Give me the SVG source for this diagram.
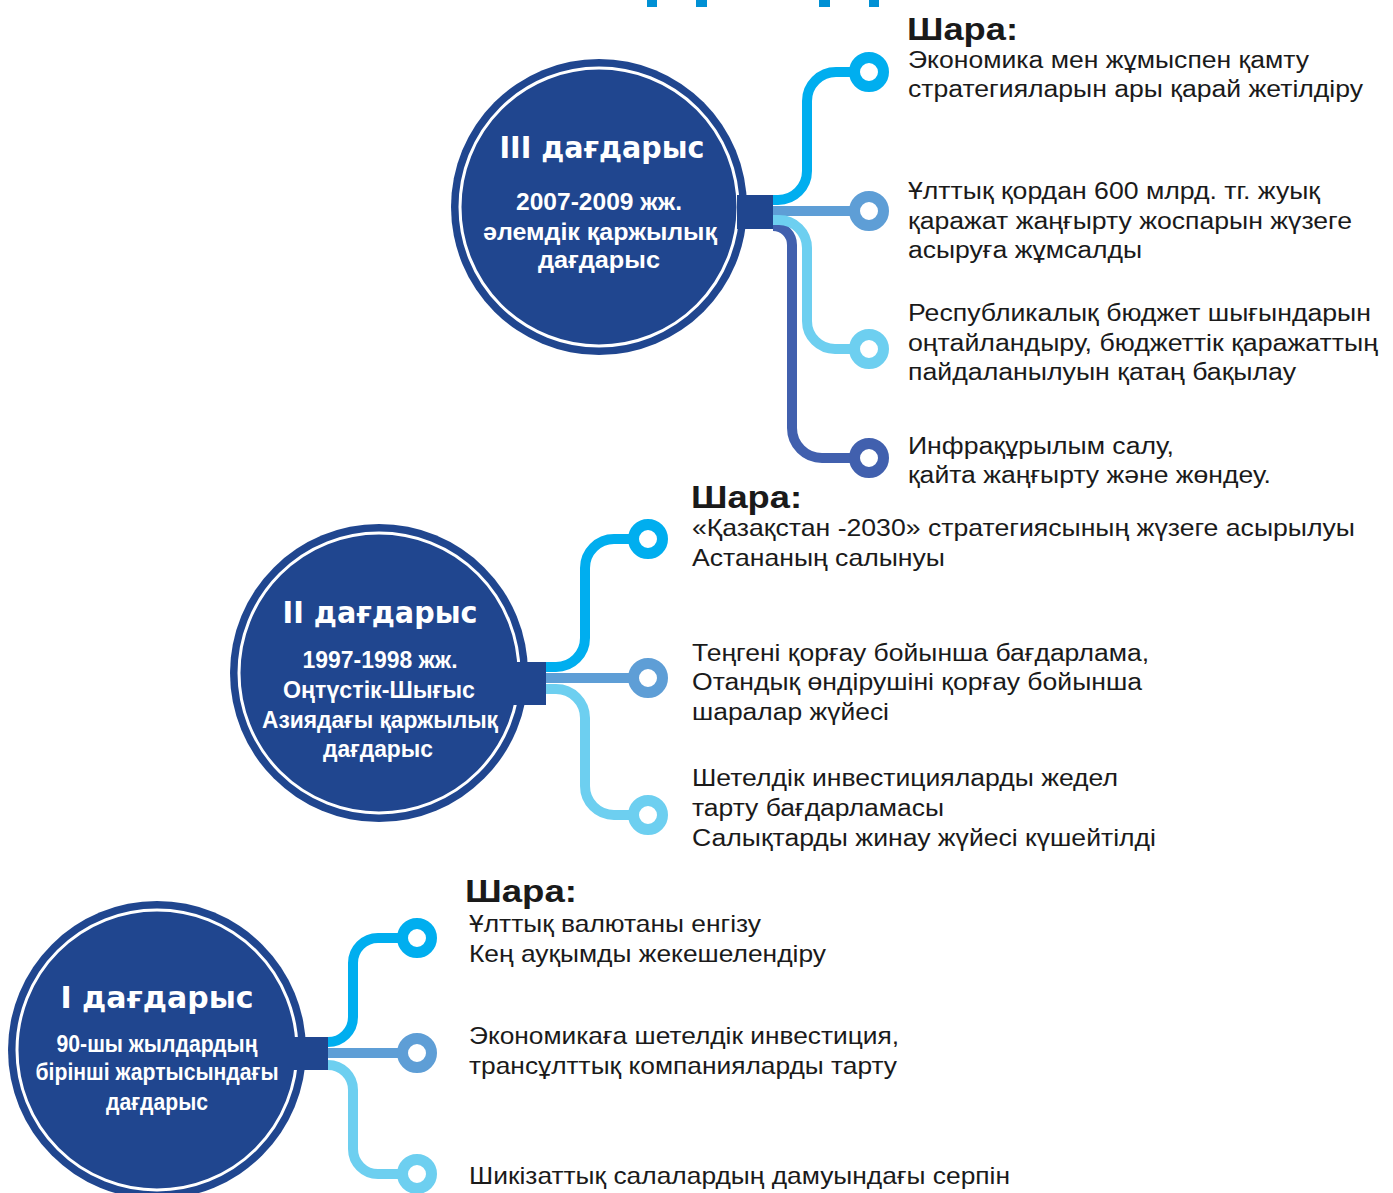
<svg xmlns="http://www.w3.org/2000/svg" width="1393" height="1193" viewBox="0 0 1393 1193">
<style>
.bg{fill:#ffffff}
.disc{fill:#20468f}
.ring{fill:none;stroke:#ffffff;stroke-width:3}
.tab{fill:#20468f}
.br{fill:none;stroke-width:10}
.c1{stroke:#00aeef}
.c2{stroke:#5e9ed6}
.c3{stroke:#6dcff0}
.c4{stroke:#4160ae}
.nd{fill:#ffffff;stroke-width:11}
.ttl{font-family:"DejaVu Sans","Liberation Sans",sans-serif;font-weight:bold;font-size:31px;fill:#ffffff;text-anchor:middle}
.sub{font-family:"Liberation Sans Narrow","Liberation Sans",Arial,sans-serif;font-weight:bold;font-size:24px;fill:#ffffff;text-anchor:middle}
.hd{font-family:"Liberation Sans",Arial,sans-serif;font-weight:bold;font-size:31px;fill:#1a1a1a}
.tx{font-family:"Liberation Sans",Arial,sans-serif;font-size:23px;fill:#1a1a1a}
.tn{font-family:"Liberation Sans",Arial,sans-serif;font-size:24px;fill:#1a1a1a}
.top{fill:#0090d4}
</style>
<rect class="bg" x="0" y="0" width="1393" height="1193"/>
<g id="title-fragment">
<rect class="top" x="647" y="0" width="10" height="7"/>
<rect class="top" x="696" y="0" width="11" height="7"/>
<rect class="top" x="819" y="0" width="11" height="7"/>
<rect class="top" x="869" y="0" width="10" height="7"/>
</g>
<g id="connectors">
<path class="br c1" d="M773,200 H778 A29,29 0 0 0 807,171 V101 A29,29 0 0 1 836,72 H860"/>
<path class="br c2" d="M773,211 H860"/>
<path class="br c4" d="M773,226 A19,19 0 0 1 792,245 V428 A30,30 0 0 0 822,458 H860"/>
<path class="br c3" d="M773,220 H779 A28,28 0 0 1 807,248 V321 A28,28 0 0 0 835,349 H860"/>
<path class="br c1" d="M546,667 H556 A29,29 0 0 0 585,638 V568 A29,29 0 0 1 614,539 H640"/>
<path class="br c2" d="M546,678 H640"/>
<path class="br c3" d="M546,689 H556 A29,29 0 0 1 585,718 V786 A29,29 0 0 0 614,815 H640"/>
<path class="br c1" d="M328,1042 A25,25 0 0 0 353,1017 V963 A25,25 0 0 1 378,938 H408"/>
<path class="br c2" d="M328,1053 H408"/>
<path class="br c3" d="M328,1065 A25,25 0 0 1 353,1090 V1149 A25,25 0 0 0 378,1174 H408"/>
</g>
<g id="crisis-3">
<circle class="disc" cx="599" cy="207" r="148"/>
<circle class="ring" cx="599" cy="207" r="139"/>
<rect class="tab" x="737" y="195" width="36" height="34"/>
<text class="ttl" x="602" y="158" textLength="205" lengthAdjust="spacingAndGlyphs">III дағдарыс</text>
<text class="sub" x="599" y="210" textLength="166" lengthAdjust="spacingAndGlyphs">2007-2009 жж.</text>
<text class="sub" x="600" y="240" textLength="234" lengthAdjust="spacingAndGlyphs">әлемдік қаржылық</text>
<text class="sub" x="599" y="268" textLength="122" lengthAdjust="spacingAndGlyphs">дағдарыс</text>
</g>
<g id="crisis-2">
<circle class="disc" cx="379" cy="673" r="149"/>
<circle class="ring" cx="379" cy="673" r="140"/>
<rect class="tab" x="513" y="662" width="33" height="43"/>
<text class="ttl" x="380" y="623" textLength="195" lengthAdjust="spacingAndGlyphs">II дағдарыс</text>
<text class="sub" x="380" y="668" textLength="155" lengthAdjust="spacingAndGlyphs">1997-1998 жж.</text>
<text class="sub" x="379" y="698" textLength="192" lengthAdjust="spacingAndGlyphs">Оңтүстік-Шығыс</text>
<text class="sub" x="380" y="728" textLength="236" lengthAdjust="spacingAndGlyphs">Азиядағы қаржылық</text>
<text class="sub" x="378" y="757" textLength="110" lengthAdjust="spacingAndGlyphs">дағдарыс</text>
</g>
<g id="crisis-1">
<circle class="disc" cx="157" cy="1050" r="149"/>
<circle class="ring" cx="157" cy="1050" r="140"/>
<rect class="tab" x="293" y="1037" width="35" height="33"/>
<text class="ttl" x="157" y="1008" textLength="193" lengthAdjust="spacingAndGlyphs">I дағдарыс</text>
<text class="sub" x="157" y="1052" textLength="201" lengthAdjust="spacingAndGlyphs">90-шы жылдардың</text>
<text class="sub" x="157" y="1080" textLength="243" lengthAdjust="spacingAndGlyphs">бірінші жартысындағы</text>
<text class="sub" x="157" y="1110" textLength="102" lengthAdjust="spacingAndGlyphs">дағдарыс</text>
</g>
<g id="nodes-3">
<circle class="nd c1" cx="869" cy="72" r="14.5"/>
<circle class="nd c2" cx="869" cy="211" r="14.5"/>
<circle class="nd c3" cx="869" cy="349" r="14.5"/>
<circle class="nd c4" cx="869" cy="458" r="14.5"/>
</g>
<g id="nodes-2">
<circle class="nd c1" cx="648" cy="539" r="14.5"/>
<circle class="nd c2" cx="648" cy="678" r="14.5"/>
<circle class="nd c3" cx="648" cy="815" r="14.5"/>
</g>
<g id="nodes-1">
<circle class="nd c1" cx="417" cy="938" r="14.5"/>
<circle class="nd c2" cx="417" cy="1053" r="14.5"/>
<circle class="nd c3" cx="417" cy="1174" r="14.5"/>
</g>
<g id="measures-3">
<text class="hd" x="907" y="40" textLength="111" lengthAdjust="spacingAndGlyphs">Шара:</text>
<text class="tx" x="908" y="68" textLength="401" lengthAdjust="spacingAndGlyphs">Экономика мен жұмыспен қамту</text>
<text class="tx" x="908" y="97" textLength="455" lengthAdjust="spacingAndGlyphs">стратегияларын ары қарай жетілдіру</text>
<text class="tx" x="908" y="199" textLength="412" lengthAdjust="spacingAndGlyphs">Ұлттық қордан 600 млрд. тг. жуық</text>
<text class="tx" x="908" y="229" textLength="444" lengthAdjust="spacingAndGlyphs">қаражат жаңғырту жоспарын жүзеге</text>
<text class="tx" x="908" y="258" textLength="234" lengthAdjust="spacingAndGlyphs">асыруға жұмсалды</text>
<text class="tx" x="908" y="321" textLength="463" lengthAdjust="spacingAndGlyphs">Республикалық бюджет шығындарын</text>
<text class="tx" x="908" y="351" textLength="470" lengthAdjust="spacingAndGlyphs">оңтайландыру, бюджеттік қаражаттың</text>
<text class="tx" x="908" y="380" textLength="388" lengthAdjust="spacingAndGlyphs">пайдаланылуын қатаң бақылау</text>
<text class="tx" x="908" y="454" textLength="266" lengthAdjust="spacingAndGlyphs">Инфрақұрылым салу,</text>
<text class="tx" x="908" y="483" textLength="363" lengthAdjust="spacingAndGlyphs">қайта жаңғырту және жөндеу.</text>
</g>
<g id="measures-2">
<text class="hd" x="691" y="508" textLength="111" lengthAdjust="spacingAndGlyphs">Шара:</text>
<text class="tn" x="692" y="536" textLength="663" lengthAdjust="spacingAndGlyphs">«Қазақстан -2030» стратегиясының жүзеге асырылуы</text>
<text class="tn" x="692" y="566" textLength="253" lengthAdjust="spacingAndGlyphs">Астананың салынуы</text>
<text class="tx" x="692" y="661" textLength="457" lengthAdjust="spacingAndGlyphs">Теңгені қорғау бойынша бағдарлама,</text>
<text class="tx" x="692" y="690" textLength="450" lengthAdjust="spacingAndGlyphs">Отандық өндірушіні қорғау бойынша</text>
<text class="tx" x="692" y="720" textLength="197" lengthAdjust="spacingAndGlyphs">шаралар жүйесі</text>
<text class="tx" x="692" y="786" textLength="426" lengthAdjust="spacingAndGlyphs">Шетелдік инвестицияларды жедел</text>
<text class="tx" x="692" y="816" textLength="252" lengthAdjust="spacingAndGlyphs">тарту бағдарламасы</text>
<text class="tx" x="692" y="846" textLength="464" lengthAdjust="spacingAndGlyphs">Салықтарды жинау жүйесі күшейтілді</text>
</g>
<g id="measures-1">
<text class="hd" x="465" y="902" textLength="112" lengthAdjust="spacingAndGlyphs">Шара:</text>
<text class="tn" x="469" y="932" textLength="292" lengthAdjust="spacingAndGlyphs">Ұлттық валютаны енгізу</text>
<text class="tn" x="469" y="962" textLength="357" lengthAdjust="spacingAndGlyphs">Кең ауқымды жекешелендіру</text>
<text class="tn" x="469" y="1044" textLength="430" lengthAdjust="spacingAndGlyphs">Экономикаға шетелдік инвестиция,</text>
<text class="tn" x="469" y="1074" textLength="428" lengthAdjust="spacingAndGlyphs">трансұлттық компанияларды тарту</text>
<text class="tn" x="469" y="1184" textLength="541" lengthAdjust="spacingAndGlyphs">Шикізаттық салалардың дамуындағы серпін</text>
</g>
</svg>
